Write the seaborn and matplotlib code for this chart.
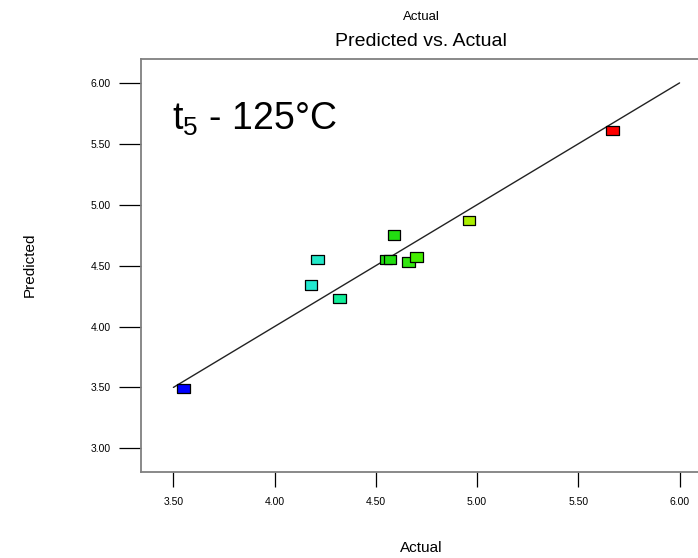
import matplotlib
matplotlib.use("Agg")
import matplotlib.pyplot as plt
import pandas as pd
import seaborn as sns
from matplotlib.path import Path

# values
actual = [3.55, 4.21, 4.18, 4.32, 4.59, 4.55, 4.57, 4.66, 4.70, 4.96, 5.67]
predicted = [3.49, 4.55, 4.34, 4.23, 4.75, 4.55, 4.55, 4.53, 4.57, 4.87, 5.61]
point_colors = ["#0000ff", "#22e8c8", "#22e8d0", "#11ee99", "#22dd11",
                "#22dd11", "#22dd11", "#33e611", "#44ee00", "#aaee00", "#ff0000"]
ref_line = [3.5, 6.0]
ticks = [3.0, 3.5, 4.0, 4.5, 5.0, 5.5, 6.0]
xticks = [3.5, 4.0, 4.5, 5.0, 5.5, 6.0]

data = pd.DataFrame({"Actual": actual, "Predicted": predicted,
                     "pt": [str(i) for i in range(len(actual))]})

sns.set_style("white")
plt.rcParams['font.family'] = ['Liberation Sans', 'DejaVu Sans']
plt.rcParams['mathtext.fontset'] = 'custom'
plt.rcParams['mathtext.rm'] = 'Liberation Sans'
plt.rcParams['text.color'] = 'black'

fig = plt.figure(figsize=(6.98, 5.58), dpi=100)
ax = fig.add_axes([0.202, 0.154, 0.836, 0.740])

sns.lineplot(x=ref_line, y=ref_line, ax=ax, color="#222222", linewidth=1.0)

rect = Path([(-1.35, -1), (1.35, -1), (1.35, 1), (-1.35, 1), (-1.35, -1)])
sns.scatterplot(data=data, x="Actual", y="Predicted", hue="pt",
                palette=point_colors, marker=rect, s=85, edgecolor="black",
                linewidth=0.9, legend=False, ax=ax, zorder=3)

ax.set_xlim(3.34, 6.222)
ax.set_ylim(2.805, 6.195)
ax.set_xticks(xticks)
ax.set_yticks(ticks)
ax.set_xticklabels([f"{t:.2f}" for t in xticks])
ax.set_yticklabels([f"{t:.2f}" for t in ticks])
ax.tick_params(axis="y", direction="out", length=16, width=0.9, pad=6,
               labelsize=7.5, colors="black", left=True)
ax.tick_params(axis="x", direction="out", length=11, width=0.9, pad=7,
               labelsize=7.5, colors="black", bottom=True)
for sp in ax.spines.values():
    sp.set_color("#808080")
    sp.set_linewidth(1.3)
ax.spines["right"].set_visible(False)

ax.set_xlabel("")
ax.set_ylabel("")
fig.text(421 / 698, 1 - 548 / 558, "Actual", ha="center", va="center", fontsize=11)
fig.text(30 / 698, 1 - 265 / 558, "Predicted", ha="center", va="center",
         rotation=90, fontsize=11)
fig.text(421 / 698, 1 - 17 / 558, "Actual", ha="center", va="center", fontsize=9.5)
fig.text(421 / 698, 1 - 41 / 558, "Predicted vs. Actual", ha="center", va="center",
         fontsize=14)
ax.text(0.053, 0.855, r"$\mathregular{t_5}$ - 125°C", transform=ax.transAxes,
        ha="left", va="center", fontsize=27)

fig.savefig("out.png", dpi=100)
